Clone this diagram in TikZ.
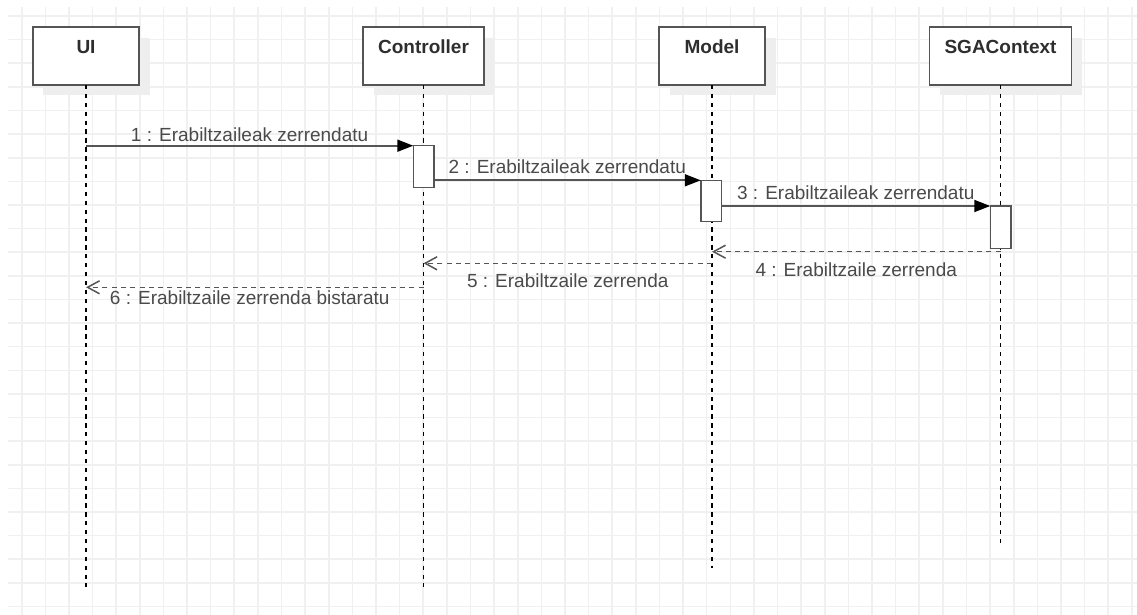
\documentclass[tikz,border=0pt]{standalone}
\usepackage{fontspec}
\setmainfont{Liberation Sans}
\usetikzlibrary{arrows.meta,shadows,calc}
\definecolor{gridc}{HTML}{F0F0F0}
\definecolor{edge}{HTML}{555555}
\definecolor{labelc}{HTML}{4A4A4A}
\definecolor{titlec}{HTML}{2E2E2E}
\definecolor{shade}{HTML}{EEEEEE}

\begin{document}
\begin{tikzpicture}[x=1pt,y=-1pt,
  gridline/.style={draw=gridc,line width=1.6pt},
  lifebox/.style={draw=edge,line width=1.6pt,fill=white,minimum height=57.7pt,
    inner sep=0pt,outer sep=0pt,
    general shadow={fill=shade,shadow xshift=10.5pt,shadow yshift=-10.5pt}},
  title/.style={anchor=base,text=titlec,inner sep=0pt,
    font=\fontsize{19}{22}\selectfont\bfseries},
  lifeline/.style={draw=black,line width=1.4pt,dash pattern=on 4.3pt off 4.6pt},
  activation/.style={draw=edge,line width=1.5pt,fill=white,minimum width=20.5pt,
    inner sep=0pt,outer sep=0pt},
  call/.style={draw=edge,line width=1.8pt,
    -{Triangle[length=16pt,width=12pt,color=black,fill=black]}},
  reply/.style={draw=edge,line width=1.5pt,dash pattern=on 5pt off 4.3pt,
    -{Straight Barb[length=12pt,width=13pt]}},
  msg/.style={anchor=base,text=labelc,inner sep=0pt,
    font=\fontsize{19}{22}\selectfont}]

% canvas
\fill[white] (0,0) rectangle (1137,615);
\useasboundingbox (0,0) rectangle (1137,615);

% background grid
\foreach \i in {0,...,47}
  \draw[gridline] ({21.7+23.62*\i},7) -- ({21.7+23.62*\i},615);
\foreach \j in {0,...,25}
  \draw[gridline] (8,{16+23.62*\j}) -- (1137,{16+23.62*\j});

% participants
\node[lifebox,minimum width=106.4pt] (ui)    at (86,56.15)    {};
\node[lifebox,minimum width=120.6pt] (ctrl)  at (423.5,56.15) {};
\node[lifebox,minimum width=106pt]   (model) at (712,56.15)   {};
\node[lifebox,minimum width=141.7pt] (sga)   at (1000.5,56.15) {};

\node[title] (uiT)    at ($(ui.north)+(0,26)$)    {UI};
\node[title] (ctrlT)  at ($(ctrl.north)+(0,26)$)  {Controller};
\node[title] (modelT) at ($(model.north)+(0,26)$) {Model};
\node[title] (sgaT)   at ($(sga.north)+(0,26)$)   {SGAContext};

% lifelines
\coordinate (uiEnd)    at (86,587);
\coordinate (ctrlEnd)  at (423.5,587);
\coordinate (modelEnd) at (712,568);
\coordinate (sgaEnd)   at (1000.5,543);
\draw[lifeline] (ui.south)    -- (uiEnd);
\draw[lifeline] (ctrl.south)  -- (ctrlEnd);
\draw[lifeline] (model.south) -- (modelEnd);
\draw[lifeline] (sga.south)   -- (sgaEnd);

% activation bars
\node[activation,minimum height=41.6pt] (actC) at (423.5,166.5) {};
\node[activation,minimum height=41.4pt] (actM) at (711,201)     {};
\node[activation,minimum height=42.3pt] (actS) at (1000.5,227.15) {};

% calls
\draw[call] (actC.north west -| ui.south) -- (actC.north west)
  node[msg,midway,yshift=4.6pt] {1 : Erabiltzaileak zerrendatu};
\draw[call] (actC.east |- actM.north) -- (actM.north west)
  node[msg,midway,yshift=6.7pt] {2 : Erabiltzaileak zerrendatu};
\draw[call] (actM.east |- actS.north) -- (actS.north west)
  node[msg,midway,yshift=6.7pt] {3 : Erabiltzaileak zerrendatu};

% replies
\coordinate (r4) at (1000.5,251.7);
\coordinate (r5) at (712,263.3);
\coordinate (r6) at (423.5,287.3);
\draw[reply] (r4) -- (r4 -| model.south)
  node[msg,midway,yshift=-24.3pt] {4 : Erabiltzaile zerrenda};
\draw[reply] (r5) -- (r5 -| ctrl.south)
  node[msg,midway,yshift=-24.4pt] {5 : Erabiltzaile zerrenda};
\draw[reply] (r6) -- (r6 -| ui.south)
  node[msg,midway,yshift=-16.7pt,xshift=-5pt] {6 : Erabiltzaile zerrenda bistaratu};
\end{tikzpicture}
\end{document}
